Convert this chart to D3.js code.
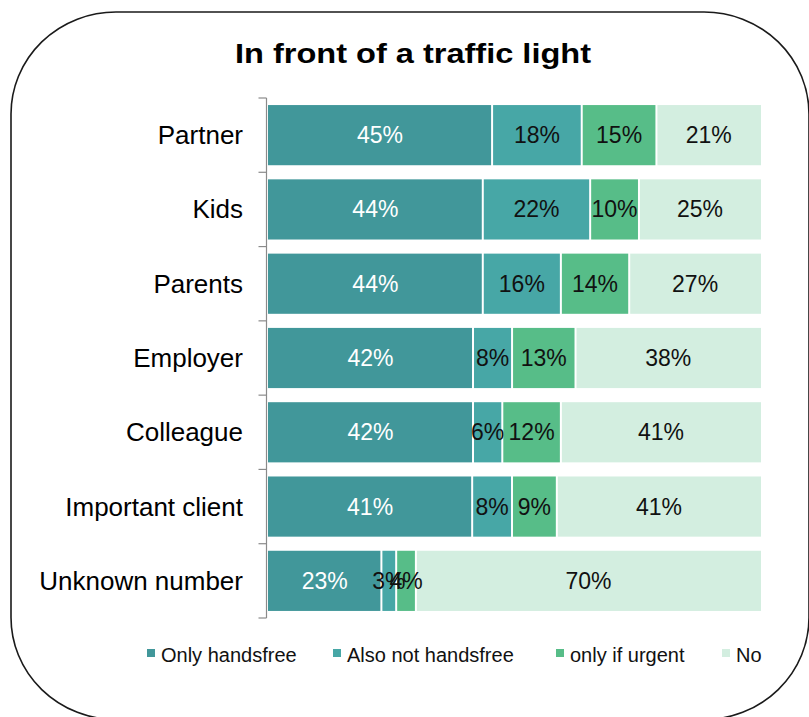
<!DOCTYPE html>
<html>
<head>
<meta charset="utf-8">
<script src="https://cdn.jsdelivr.net/npm/d3@7"></script>
<style>
  html, body { margin: 0; padding: 0; background: #fff; }
  svg { display: block; font-family: "Liberation Sans", Arial, Helvetica, sans-serif; }
</style>
</head>
<body>
<svg id="chart" width="809" height="717"></svg>
<script>
const title = "In front of a traffic light";
const categories = ["Partner", "Kids", "Parents", "Employer", "Colleague", "Important client", "Unknown number"];
const seriesNames = ["Only handsfree", "Also not handsfree", "only if urgent", "No"];
const onlyHandsfree    = [45, 44, 44, 42, 42, 41, 23];
const alsoNotHandsfree = [18, 22, 16, 8, 6, 8, 3];
const onlyIfUrgent     = [15, 10, 14, 13, 12, 9, 4];
const no               = [21, 25, 27, 38, 41, 41, 70];
const colors = ["#41979a", "#47a7a6", "#57bd88", "#d3eee0"];
const labelColors = ["#ffffff", "#111111", "#111111", "#111111"];

const seriesValues = [onlyHandsfree, alsoNotHandsfree, onlyIfUrgent, no];
const keys = ["s0", "s1", "s2", "s3"];
const rows = categories.map((c, i) => {
  const r = { category: c };
  keys.forEach((k, j) => r[k] = seriesValues[j][i]);
  return r;
});

const svg = d3.select("#chart");

// rounded frame
svg.append("rect")
  .attr("x", 11).attr("y", 12)
  .attr("width", 798).attr("height", 707.5)
  .attr("rx", 105).attr("ry", 102)
  .attr("fill", "none").attr("stroke", "#1a1a1a").attr("stroke-width", 1.6);

// title
svg.append("text")
  .attr("x", 413).attr("y", 63)
  .attr("text-anchor", "middle")
  .attr("font-size", 28).attr("font-weight", "bold")
  .attr("textLength", 356).attr("lengthAdjust", "spacingAndGlyphs")
  .attr("fill", "#000")
  .text(title);

const y = d3.scaleBand().domain(categories).range([98, 618]).paddingInner(0.19).paddingOuter(0.095);
const x = d3.scaleLinear().domain([0, 1]).range([268, 761]);

const stack = d3.stack().keys(keys).offset(d3.stackOffsetExpand);
const stacked = stack(rows);

const layers = svg.append("g").selectAll("g").data(stacked).join("g")
  .attr("fill", (d, i) => colors[i]);

layers.each(function(layer, li) {
  const g = d3.select(this);
  const last = keys.length - 1;
  g.selectAll("rect").data(layer).join("rect")
    .attr("x", d => x(d[0]) + (li > 0 ? 1 : 0))
    .attr("y", d => y(d.data.category))
    .attr("height", y.bandwidth())
    .attr("width", d => Math.max(0, x(d[1]) - x(d[0]) - (li > 0 ? 1 : 0) - (li < last ? 1 : 0)));
});

// value labels
stacked.forEach((layer, li) => {
  svg.append("g").selectAll("text").data(layer).join("text")
    .attr("x", d => (x(d[0]) + x(d[1])) / 2)
    .attr("y", d => y(d.data.category) + y.bandwidth() / 2 + 8)
    .attr("text-anchor", "middle")
    .attr("font-size", 23)
    .attr("fill", labelColors[li])
    .text(d => d.data[keys[li]] + "%");
});

// axis line and ticks
const axisX = 266.5;
const step = y.step();
const ax = svg.append("g").attr("stroke", "#8a8a8a").attr("stroke-width", 1.2);
ax.append("line").attr("x1", axisX).attr("x2", axisX).attr("y1", 98).attr("y2", 618);
const tickYs = d3.range(categories.length + 1).map(i => 98 + i * step);
ax.selectAll("line.tick").data(tickYs).join("line").attr("class", "tick")
  .attr("x1", axisX - 8).attr("x2", axisX).attr("y1", d => d).attr("y2", d => d);

// category labels
svg.append("g").selectAll("text").data(categories).join("text")
  .attr("x", 243)
  .attr("y", d => y(d) + y.bandwidth() / 2 + 9)
  .attr("text-anchor", "end")
  .attr("font-size", 26)
  .attr("fill", "#000")
  .text(d => d);

// legend
const legendX = [147, 333, 556, 722];
const lg = svg.append("g").selectAll("g").data(seriesNames).join("g")
  .attr("transform", (d, i) => `translate(${legendX[i]},0)`);
lg.append("rect").attr("x", 0).attr("y", 649).attr("width", 8).attr("height", 8)
  .attr("fill", (d, i) => colors[i]);
lg.append("text").attr("x", 14).attr("y", 662)
  .attr("font-size", 20).attr("fill", "#111")
  .text(d => d);
</script>
</body>
</html>
